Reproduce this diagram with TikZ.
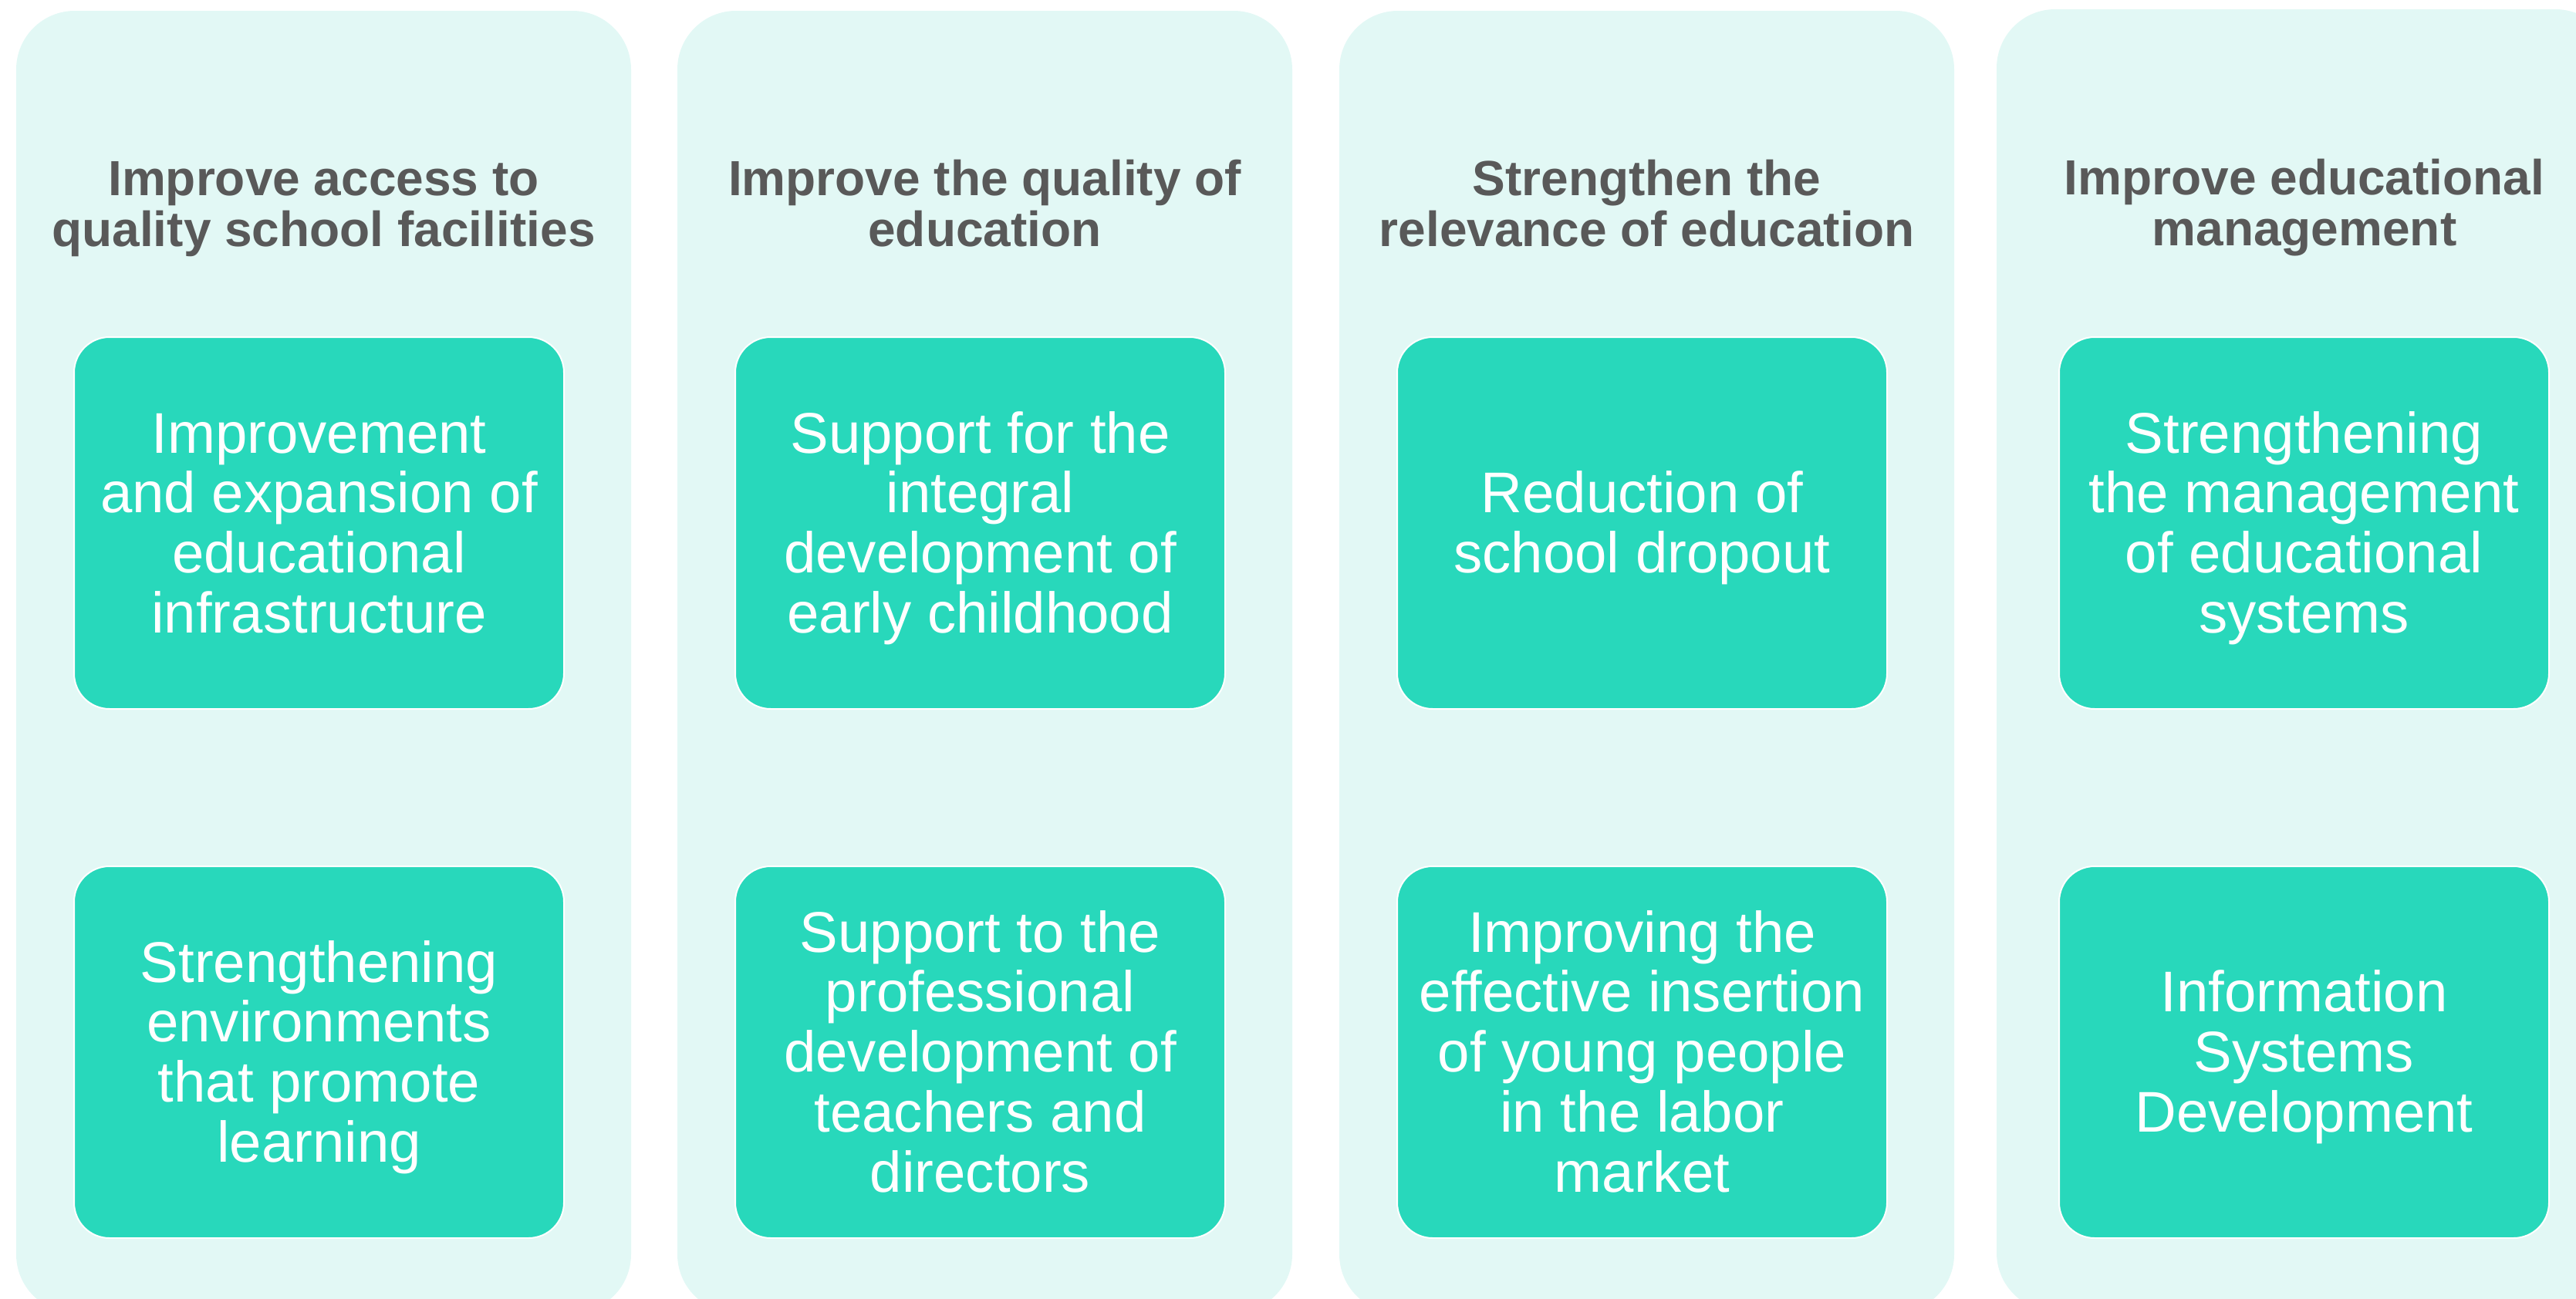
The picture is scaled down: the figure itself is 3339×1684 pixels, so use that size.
\documentclass[tikz,border=0pt]{standalone}
\usepackage{fontspec}
\setmainfont{Liberation Sans}
\definecolor{colbg}{HTML}{E2F8F5}
\definecolor{boxfill}{HTML}{28D8BB}
\definecolor{titlegray}{HTML}{595959}
\newcommand\lstrut{\rule[-0.212em]{0pt}{1.117em}}
\newcommand\titlefnt{\fontsize{64}{66}\selectfont\bfseries\lineskiplimit-\maxdimen\relax}
\newcommand\itemfnt{\fontsize{74.4}{77.8}\selectfont\lineskiplimit-\maxdimen\relax}
\tikzset{
  column/.style={fill=colbg, draw=none, rounded corners=76pt, minimum height=1688pt, inner sep=0pt},
  coltitle/.style={font=\titlefnt, text=titlegray, align=center, inner sep=0pt},
  itembox/.style={fill=boxfill, draw=white, line width=2pt, rounded corners=46pt, minimum width=635pt, minimum height=482pt, inner sep=0pt, text=white, align=center, font=\itemfnt},
}
\begin{document}
\begin{tikzpicture}[x=1pt, y=-1pt]
\useasboundingbox (0,0) rectangle (3339,1684);
\clip (0,0) rectangle (3339,1684);
% columns
\node[column, minimum width=797pt] (col1) at (419.5,858) {};
\node[column, minimum width=797pt] (col2) at (1276.5,858) {};
\node[column, minimum width=797pt] (col3) at (2134.5,858) {};
\node[column, minimum width=800pt] (col4) at (2988,856) {};
% titles
\node[coltitle] (t1) at (419.5,264.3) {\lstrut Improve access to\\\lstrut quality school facilities};
\node[coltitle] (t2) at (1276.5,264.3) {\lstrut Improve the quality of\\\lstrut education};
\node[coltitle] (t3) at (2134.5,264.3) {\lstrut Strengthen the\\\lstrut relevance of education};
\node[coltitle] (t4) at (2987,263) {\lstrut Improve educational\\\lstrut management};
% boxes row 1
\node[itembox] (b1a) at (413.5,678) {\lstrut Improvement\\\lstrut and expansion of\\\lstrut educational\\\lstrut infrastructure};
\node[itembox] (b2a) at (1270.5,678) {\lstrut Support for the\\\lstrut integral\\\lstrut development of\\\lstrut early childhood};
\node[itembox] (b3a) at (2128.5,678) {\lstrut Reduction of\\\lstrut school dropout};
\node[itembox] (b4a) at (2986.5,678) {\lstrut Strengthening\\\lstrut the management\\\lstrut of educational\\\lstrut systems};
% boxes row 2
\node[itembox] (b1b) at (413.5,1364) {\lstrut Strengthening\\\lstrut environments\\\lstrut that promote\\\lstrut learning};
\node[itembox] (b2b) at (1270.5,1364) {\lstrut Support to the\\\lstrut professional\\\lstrut development of\\\lstrut teachers and\\\lstrut directors};
\node[itembox] (b3b) at (2128.5,1364) {\lstrut Improving the\\\lstrut effective insertion\\\lstrut of young people\\\lstrut in the labor\\\lstrut market};
\node[itembox] (b4b) at (2986.5,1364) {\lstrut Information\\\lstrut Systems\\\lstrut Development};
\end{tikzpicture}
\end{document}
